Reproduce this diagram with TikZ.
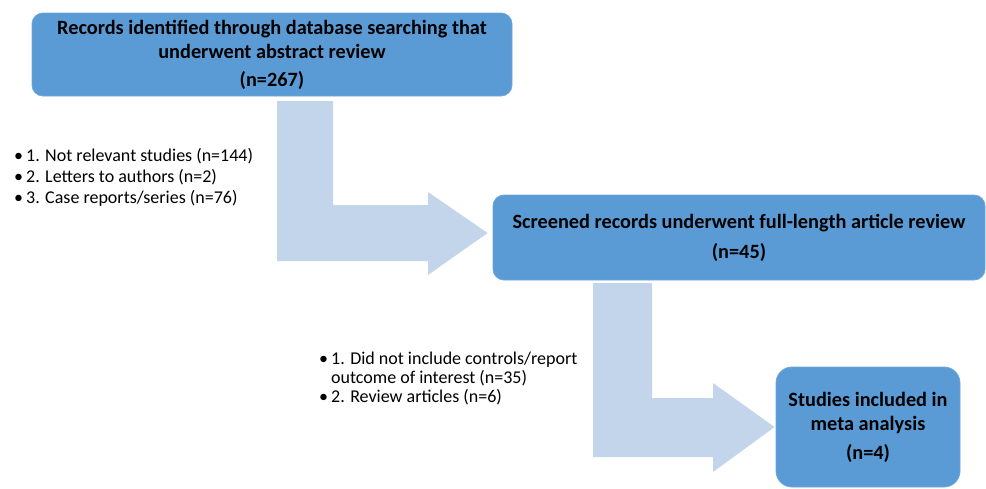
\documentclass[tikz,border=0pt]{standalone}
\usepackage{fontspec}
\setmainfont{Carlito}
\usetikzlibrary{calc}
\definecolor{boxblue}{HTML}{5B9BD5}
\definecolor{boxedge}{HTML}{6FA6DA}
\definecolor{arrowblue}{HTML}{C3D5EB}
\begin{document}
\begin{tikzpicture}[x=1pt,y=-1pt,
  stagebox/.style={fill=boxblue, draw=boxedge, line width=0.8pt, rounded corners=#1,
     align=center, font=\bfseries\fontsize{20.3}{24}\selectfont, inner sep=0pt},
  stagebox/.default=11pt,
  bigarrow/.style={fill=arrowblue, draw=none},
  notes/.style={anchor=west, inner sep=0pt, align=left, font=\fontsize{18}{21}\selectfont}]
\useasboundingbox (0,0) rectangle (986,488);

\node[stagebox, minimum width=480pt, minimum height=83pt] (b1) at (272,54.5)
  {Records identified through database searching that\\ underwent abstract review\\[4pt] (n=267)};
\node[stagebox, minimum width=492pt, minimum height=85pt] (b2) at (739,237.5)
  {Screened records underwent full-length article review\\[6pt] (n=45)};
\node[stagebox=16pt, minimum width=184pt, minimum height=120pt] (b3) at (868,427)
  {Studies included in\\ meta analysis\\[5pt] (n=4)};

% L-shaped block arrows
\fill[bigarrow] (277,101) -- (333,101) -- (333,205) -- (428,205) -- (428,192)
  -- ($(b2.west)+(-5,-4.5)$) -- (428,275) -- (428,261) -- (277,261) -- cycle;
\fill[bigarrow] (593,283) -- (652,283) -- (652,398) -- (713,398) -- (713,383)
  -- ($(b3.west)+(-1,0)$) -- (713,472) -- (713,457) -- (593,457) -- cycle;

\node[notes] (n1) at (14,178) {%
  \begin{tabular}{@{}l@{\hspace{3pt}}l@{}}
  \textbullet & 1. Not relevant studies (n=144)\\
  \textbullet & 2. Letters to authors (n=2)\\
  \textbullet & 3. Case reports/series (n=76)
  \end{tabular}};
\node[notes, font=\fontsize{18}{19}\selectfont] (n2) at (319,380) {%
  \begin{tabular}{@{}l@{\hspace{3pt}}l@{}}
  \textbullet & 1. Did not include controls/report\\
   & outcome of interest (n=35)\\
  \textbullet & 2. Review articles (n=6)
  \end{tabular}};
\end{tikzpicture}
\end{document}
